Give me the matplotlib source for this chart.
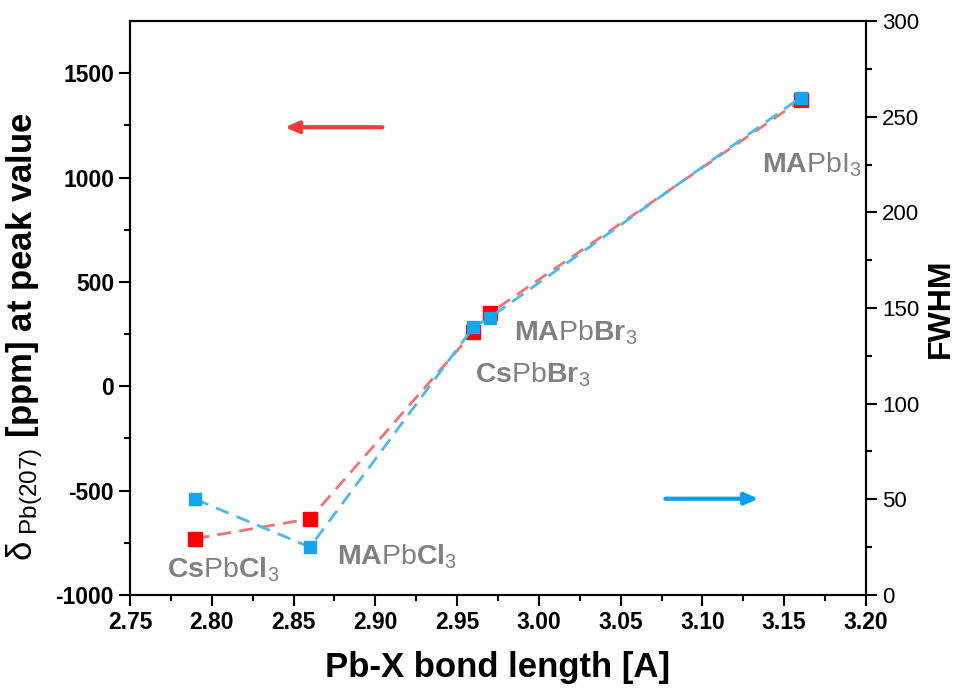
import matplotlib
matplotlib.use("Agg")
import matplotlib.pyplot as plt

plt.rcParams['font.family'] = ['Liberation Sans', 'DejaVu Sans']
plt.rcParams['mathtext.fontset'] = 'custom'
plt.rcParams['mathtext.rm'] = 'Liberation Sans'
plt.rcParams['mathtext.bf'] = 'Liberation Sans:bold'
plt.rcParams['mathtext.it'] = 'Liberation Sans:italic'
plt.rcParams['axes.unicode_minus'] = False

bond_length = [2.79, 2.86, 2.96, 2.97, 3.16]
shift_ppm = [-730, -635, 260, 350, 1370]
fwhm = [50, 25, 140, 145, 260]
compounds = [r"$\mathbf{Cs}$Pb$\mathbf{Cl}_{\mathrm{3}}$",
             r"$\mathbf{MA}$Pb$\mathbf{Cl}_{\mathrm{3}}$",
             r"$\mathbf{Cs}$Pb$\mathbf{Br}_{\mathrm{3}}$",
             r"$\mathbf{MA}$Pb$\mathbf{Br}_{\mathrm{3}}$",
             r"$\mathbf{MA}$PbI$_{\mathrm{3}}$"]
label_xy = [(2.7726, -914), (2.8767, -856), (2.9611, 20), (2.985, 221), (3.1362, 1026)]

fig = plt.figure(figsize=(9.61, 6.94), dpi=100)
ax = fig.add_axes([0.1353, 0.1427, 0.9011 - 0.1353, 0.9697 - 0.1427])
ax2 = ax.twinx()

ax.plot(bond_length, shift_ppm, ls=(0, (5, 3)), color='#f27373', lw=2, zorder=2)
ax.plot(bond_length, shift_ppm, ls='none', marker='s', ms=10, color='#ff0000', zorder=3)
ax2.plot(bond_length, fwhm, ls=(0, (5, 3)), color='#4db8f0', lw=2, zorder=2)
ax2.plot(bond_length, fwhm, ls='none', marker='s', ms=9, color='#12a6f0', zorder=3)

for txt, (lx, ly) in zip(compounds, label_xy):
    ax.text(lx, ly, txt, fontsize=20.5, color='#808080', ha='left', va='baseline')

ax.set_xlim(2.75, 3.20)
ax.set_ylim(-1000, 1750)
ax2.set_ylim(0, 300)

ax.set_xticks([2.75 + 0.05 * i for i in range(10)])
ax.set_xticklabels([f"{2.75 + 0.05 * i:.2f}" for i in range(10)])
ax.set_xticks([2.775 + 0.05 * i for i in range(9)], minor=True)
ax.set_yticks([-1000, -500, 0, 500, 1000, 1500])
ax.set_yticks([-750, -250, 250, 750, 1250], minor=True)
ax2.set_yticks([0, 50, 100, 150, 200, 250, 300])
ax2.set_yticks([25, 75, 125, 175, 225, 275], minor=True)

for lab in ax.get_xticklabels() + ax.get_yticklabels():
    lab.set_fontweight('bold')
    lab.set_fontsize(16.5)
for lab in ax2.get_yticklabels():
    lab.set_fontsize(16)

ax.tick_params(which='major', direction='out', length=8, width=1.5, top=False)
ax.tick_params(which='minor', direction='out', length=4, width=1.5, top=False)
ax2.tick_params(which='major', direction='out', length=8, width=1.5)
ax2.tick_params(which='minor', direction='out', length=4, width=1.5)
for a in (ax, ax2):
    for s in a.spines.values():
        s.set_linewidth(1.5)

ax.set_xlabel("Pb-X bond length [A]", fontsize=25, fontweight='bold', labelpad=12)
ax.set_ylabel(r"$\mathrm{\delta}_{\ \mathrm{Pb(207)}}$ $\mathbf{[ppm]\ at\ peak\ value}$",
              fontsize=25)
ax.yaxis.set_label_coords(-0.116, 0.45)
ax2.set_ylabel("FWHM", fontsize=23, fontweight='bold', labelpad=5)

ax.annotate("", xy=(2.843, 1241), xytext=(2.906, 1241),
            arrowprops=dict(arrowstyle='-|>,head_length=0.8,head_width=0.35', color='#f03c3c', lw=3))
ax2.annotate("", xy=(3.136, 50.3), xytext=(3.0756, 50.3),
             arrowprops=dict(arrowstyle='-|>,head_length=0.8,head_width=0.35', color='#00a0f0', lw=3))

fig.savefig("out.png", dpi=100)
